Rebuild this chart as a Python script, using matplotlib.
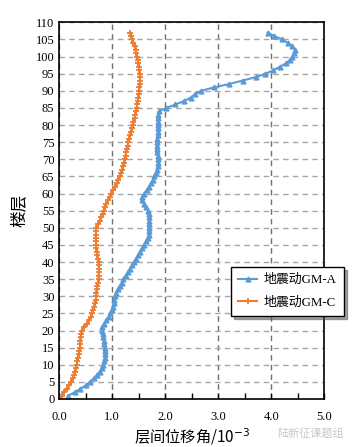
import matplotlib.pyplot as plt
import numpy as np

plt.rcParams['font.family'] = ['Liberation Serif', 'Noto Sans CJK SC']

floors = list(range(1, 108))

# inter-storey drift ratio (10^-3), one value per floor
gm_a = [0.17, 0.30, 0.40, 0.50, 0.58, 0.65, 0.71, 0.76, 0.80, 0.83,
        0.85, 0.86, 0.86, 0.86, 0.86, 0.85, 0.84, 0.83, 0.83, 0.81,
        0.80, 0.85, 0.89, 0.93, 0.96, 0.99, 1.01, 1.03, 1.04, 1.05,
        1.07, 1.10, 1.14, 1.18, 1.21, 1.25, 1.29, 1.33, 1.37, 1.41,
        1.45, 1.49, 1.52, 1.56, 1.60, 1.64, 1.67, 1.69, 1.70, 1.70,
        1.70, 1.70, 1.70, 1.69, 1.68, 1.64, 1.60, 1.56, 1.56, 1.60,
        1.65, 1.69, 1.73, 1.77, 1.79, 1.82, 1.85, 1.87, 1.87, 1.87,
        1.86, 1.85, 1.84, 1.84, 1.84, 1.85, 1.86, 1.86, 1.87, 1.87,
        1.87, 1.87, 1.87, 1.88, 2.02, 2.19, 2.35, 2.48, 2.56, 2.68,
        2.92, 3.21, 3.46, 3.71, 3.89, 4.04, 4.16, 4.28, 4.35, 4.40,
        4.43, 4.45, 4.40, 4.31, 4.20, 4.06, 3.93]

gm_c = [0.05, 0.09, 0.14, 0.18, 0.22, 0.25, 0.27, 0.29, 0.31, 0.33,
        0.34, 0.35, 0.37, 0.38, 0.39, 0.40, 0.40, 0.41, 0.41, 0.42,
        0.46, 0.52, 0.57, 0.60, 0.62, 0.64, 0.66, 0.67, 0.69, 0.70,
        0.70, 0.71, 0.72, 0.73, 0.74, 0.74, 0.75, 0.75, 0.74, 0.74,
        0.73, 0.72, 0.71, 0.70, 0.70, 0.69, 0.69, 0.69, 0.69, 0.70,
        0.73, 0.76, 0.79, 0.82, 0.84, 0.86, 0.89, 0.92, 0.95, 0.98,
        1.01, 1.05, 1.08, 1.11, 1.14, 1.17, 1.19, 1.21, 1.23, 1.24,
        1.25, 1.26, 1.27, 1.29, 1.30, 1.32, 1.34, 1.36, 1.38, 1.39,
        1.40, 1.42, 1.43, 1.45, 1.46, 1.47, 1.48, 1.49, 1.50, 1.51,
        1.51, 1.52, 1.52, 1.52, 1.52, 1.51, 1.50, 1.49, 1.48, 1.46,
        1.45, 1.44, 1.42, 1.40, 1.38, 1.36, 1.33]

fig = plt.figure(figsize=(3.55, 4.47), dpi=100)
ax = fig.add_axes([0.167, 0.1074, 0.7465, 0.8427])

ax.plot(gm_a, floors, color="#5b9bd5", lw=1.5, marker="^", ms=3.5, label="地震动GM-A")
ax.plot(gm_c, floors, color="#ed7d31", lw=1.5, marker="+", ms=4, mew=1.3, label="地震动GM-C")

ax.set_xlim(0, 5)
ax.set_ylim(0, 110)
ax.set_xticks(np.arange(0, 5.1, 1.0))
ax.set_xticklabels(["0.0", "1.0", "2.0", "3.0", "4.0", "5.0"])
ax.set_xticks(np.arange(0, 5.1, 0.5), minor=True)
ax.set_yticks(range(0, 111, 5))
ax.tick_params(direction="in", labelsize=9, length=4, width=1)
ax.tick_params(which="minor", direction="in", length=4, width=1)
ax.tick_params(axis="y", length=0)
ax.tick_params(axis="x", pad=9)

ax.grid(axis="x", color="#707070", ls=(0, (4, 3)), lw=1)
ax.grid(axis="y", color="#a6a6a6", ls=(0, (4, 3)), lw=1)
for s in ax.spines.values():
    s.set_linewidth(1.2)

ax.set_xlabel("层间位移角/10$^{-3}$", fontsize=11, family=["Noto Sans CJK SC", "Liberation Serif"], labelpad=2)
ax.set_ylabel("楼层", fontsize=12, family=["Noto Sans CJK SC"], labelpad=6)

leg = fig.legend(loc="upper left", bbox_to_anchor=(231 / 355, 1 - 267 / 447), borderaxespad=0,
                 fancybox=False, shadow=True, edgecolor="black", framealpha=1,
                 handlelength=1.5, handletextpad=0.5, borderpad=0.55, labelspacing=0.8,
                 prop={"family": ["Liberation Serif", "Noto Sans CJK SC"], "size": 9.3})
leg.get_frame().set_linewidth(1)

fig.text(0.97, 0.022, "陆新征课题组", fontsize=8, color="#c8c8c8", ha="right",
         family=["Noto Sans CJK SC"])

fig.savefig("out.png", dpi=100)
